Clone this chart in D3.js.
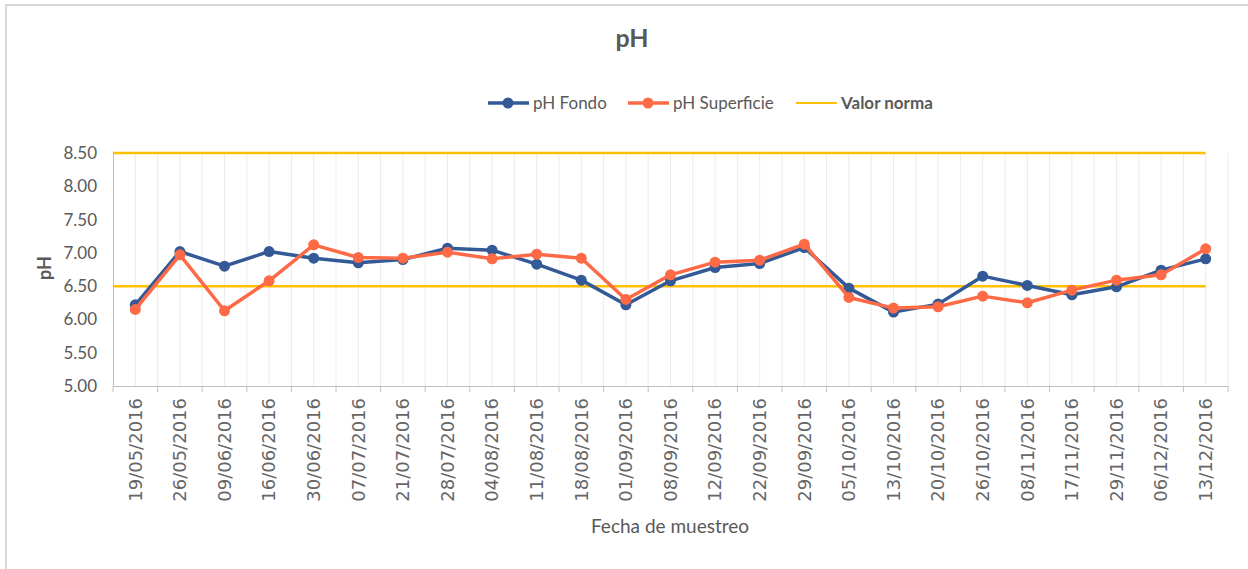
<!DOCTYPE html>
<html>
<head>
<meta charset="utf-8">
<script src="https://cdn.jsdelivr.net/npm/d3@7"></script>
<style>
  body { margin: 0; background: #fff; }
  text { font-family: Lato, "Open Sans", sans-serif; fill: #595959; }
  .dates text { font-family: "DejaVu Sans", sans-serif; fill: #666; }
</style>
</head>
<body>
<div id="chart"></div>
<script>
// sampling dates (x categories)
var fechas = ["19/05/2016","26/05/2016","09/06/2016","16/06/2016","30/06/2016","07/07/2016",
  "21/07/2016","28/07/2016","04/08/2016","11/08/2016","18/08/2016","01/09/2016","08/09/2016",
  "12/09/2016","22/09/2016","29/09/2016","05/10/2016","13/10/2016","20/10/2016","26/10/2016",
  "08/11/2016","17/11/2016","29/11/2016","06/12/2016","13/12/2016"];

var phFondo = [6.22,7.02,6.80,7.02,6.92,6.85,6.90,7.07,7.04,6.83,6.59,6.22,6.58,6.78,6.84,
  7.08,6.47,6.11,6.23,6.65,6.51,6.37,6.49,6.74,6.91];

var phSuperficie = [6.15,6.97,6.13,6.58,7.12,6.93,6.92,7.01,6.91,6.98,6.92,6.30,6.67,6.86,6.89,
  7.13,6.33,6.17,6.19,6.35,6.25,6.44,6.59,6.67,7.06];

// norm limits
var valorNorma = [6.5, 8.5];
var yTicks = [5.0,5.5,6.0,6.5,7.0,7.5,8.0,8.5];

var width = 1248, height = 569;
var margin = {left: 113, right: 20, top: 153, bottom: 183};

var svg = d3.select("#chart").append("svg").attr("width", width).attr("height", height);

// chart frame
svg.append("rect").attr("x", 6).attr("y", 5).attr("width", width).attr("height", height)
  .style("fill", "none").style("stroke", "#d9d9d9").style("stroke-width", 2);

var x = d3.scaleBand().domain(fechas).range([margin.left, width - margin.right]);
var y = d3.scaleLinear().domain([5, 8.5]).range([height - margin.bottom, margin.top]);
var cx = function(d){ return x(d) + x.bandwidth()/2; };

// vertical gridlines at centers and band edges
var grid = [];
fechas.forEach(function(d){ grid.push(cx(d)); grid.push(x(d) + x.bandwidth()); });
svg.append("g").selectAll("line").data(grid).enter().append("line")
  .attr("x1", function(d){ return d; }).attr("x2", function(d){ return d; })
  .attr("y1", y(8.5)).attr("y2", y(5))
  .style("stroke", "#ececec").style("stroke-width", 1);

// y axis
var yAxis = svg.append("g").attr("transform", "translate(" + margin.left + ",0)")
  .call(d3.axisLeft(y).tickValues(yTicks).tickSize(0).tickPadding(16).tickFormat(d3.format(".2f")));
yAxis.select(".domain").style("stroke", "#bfbfbf");
yAxis.selectAll("text").style("font-size", "17px");

// x axis
var xAxis = svg.append("g").attr("class", "dates").attr("transform", "translate(0," + y(5) + ")")
  .call(d3.axisBottom(x).tickSize(0).tickPadding(0));
xAxis.select(".domain").style("stroke", "#bfbfbf");
xAxis.selectAll(".tick text")
  .attr("transform", "rotate(-90)")
  .attr("x", -12).attr("y", 0).attr("dy", "0.35em")
  .style("text-anchor", "end").style("font-size", "18px");
// ticks on band edges
svg.append("g").selectAll("line").data([margin.left].concat(fechas.map(function(d){ return x(d) + x.bandwidth(); })))
  .enter().append("line")
  .attr("x1", function(d){ return d; }).attr("x2", function(d){ return d; })
  .attr("y1", y(5)).attr("y2", y(5) + 6)
  .style("stroke", "#bfbfbf");

// norm lines
svg.append("g").selectAll("line").data(valorNorma).enter().append("line")
  .attr("x1", margin.left).attr("x2", cx(fechas[fechas.length-1]))
  .attr("y1", function(d){ return y(d); }).attr("y2", function(d){ return y(d); })
  .style("stroke", "#ffc000").style("stroke-width", 2.5);

var line = d3.line().x(function(d,i){ return cx(fechas[i]); }).y(function(d){ return y(d); });

function drawSeries(data, color){
  svg.append("path").datum(data).attr("d", line)
    .style("fill", "none").style("stroke", color).style("stroke-width", 3.5).style("stroke-linejoin", "round");
  svg.append("g").selectAll("circle").data(data).enter().append("circle")
    .attr("cx", function(d,i){ return cx(fechas[i]); })
    .attr("cy", function(d){ return y(d); })
    .attr("r", 5.5).style("fill", color);
}
drawSeries(phFondo, "#335a97");
drawSeries(phSuperficie, "#fd6a45");

// titles
svg.append("text").attr("x", 632).attr("y", 47).attr("text-anchor", "middle")
  .style("font-size", "25px").style("font-weight", "bold").text("pH");
svg.append("text").attr("x", 670).attr("y", 533).attr("text-anchor", "middle")
  .style("font-size", "19px").text("Fecha de muestreo");
svg.append("text").attr("transform", "translate(51,268) rotate(-90)").attr("text-anchor", "middle")
  .style("font-size", "18px").style("font-weight", "bold").text("pH");

// legend
var legend = [
  {name: "pH Fondo", color: "#335a97", x: 488, marker: true, bold: false},
  {name: "pH Superficie", color: "#fd6a45", x: 628, marker: true, bold: false},
  {name: "Valor norma", color: "#ffc000", x: 796, marker: false, bold: true}
];
var lg = svg.append("g").selectAll("g").data(legend).enter().append("g");
lg.append("line").attr("x1", function(d){ return d.x; }).attr("x2", function(d){ return d.x + 41; })
  .attr("y1", 103).attr("y2", 103)
  .style("stroke", function(d){ return d.color; })
  .style("stroke-width", function(d){ return d.marker ? 3.5 : 2; });
lg.filter(function(d){ return d.marker; }).append("circle")
  .attr("cx", function(d){ return d.x + 20; }).attr("cy", 103).attr("r", 5.5)
  .style("fill", function(d){ return d.color; });
lg.append("text").attr("x", function(d){ return d.x + 45; }).attr("y", 109)
  .style("font-size", "17px").style("font-weight", function(d){ return d.bold ? "bold" : "normal"; })
  .text(function(d){ return d.name; });
</script>
</body>
</html>
